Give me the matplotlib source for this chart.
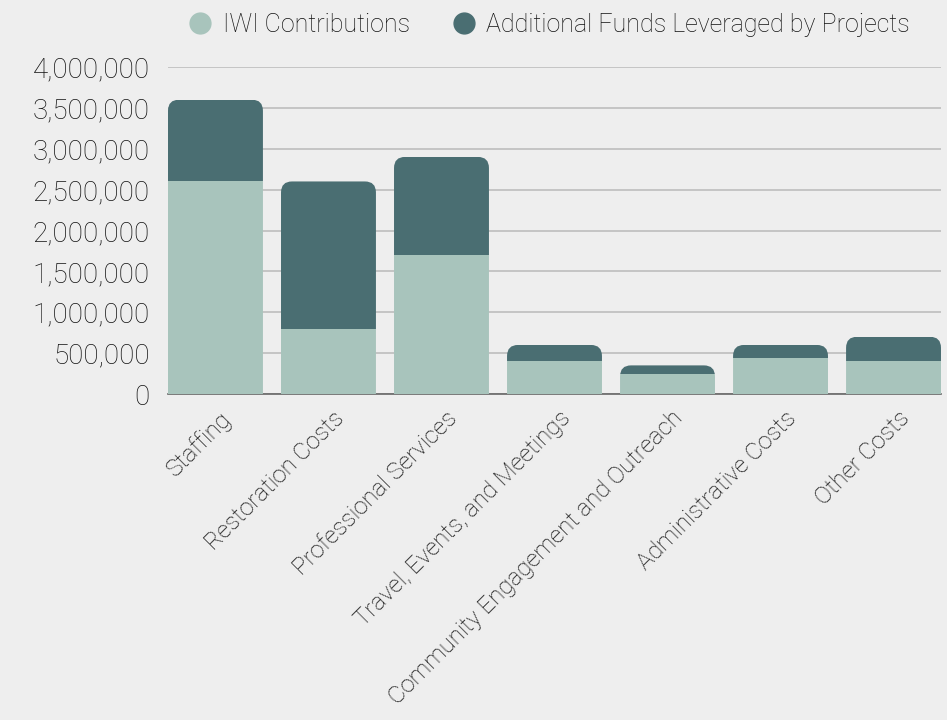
import numpy as np
import matplotlib.pyplot as plt
from matplotlib.patches import FancyBboxPatch
from matplotlib.lines import Line2D
from matplotlib.ticker import FuncFormatter
from matplotlib.transforms import ScaledTranslation

# -----------------------------
# Data
# -----------------------------
categories = ["Staffing", "Restoration Costs", "Professional Services",
              "Travel, Events, and Meetings", "Community Engagement and Outreach",
              "Administrative Costs", "Other Costs"]
iwi = [2600000, 800000, 1700000, 400000, 250000, 440000, 400000]
leveraged = [1000000, 1800000, 1200000, 200000, 100000, 160000, 300000]

light = "#a8c4bc"
dark = "#4a6e72"
bg = "#eeeeee"
txt = "#111111"

plt.rcParams['font.family'] = ['Roboto', 'DejaVu Sans']
plt.rcParams['font.weight'] = 'light'

W, H = 947, 720
fig = plt.figure(figsize=(W / 100, H / 100), dpi=100)
fig.patch.set_facecolor(bg)

left, right, bottom, top = 168, 941, 394, 67
ax = fig.add_axes([left / W, 1 - bottom / H, (right - left) / W, (bottom - top) / H])
ax.set_facecolor("none")

x = np.arange(len(categories))
width = 0.84
ax.set_xlim(-0.42, len(categories) - 1 + 0.42)
ax.set_ylim(0, 4000000)

b1 = ax.bar(x, iwi, width, color=light, zorder=3)
b2 = ax.bar(x, leveraged, width, bottom=iwi, color=dark, zorder=3)

# rounded top corners: clip each stack to a rounded box
px_x = (right - left) / (ax.get_xlim()[1] - ax.get_xlim()[0])
px_y = (bottom - top) / 4000000
radius_px = 11
rx = radius_px / px_x
aspect = (radius_px / px_y) / rx
for i, (a, b) in enumerate(zip(iwi, leveraged)):
    total = a + b
    clip = FancyBboxPatch((x[i] - width / 2, -500000), width, total + 500000,
                          boxstyle=f"round,pad=0,rounding_size={rx}",
                          mutation_aspect=aspect, transform=ax.transData,
                          facecolor="none", edgecolor="none")
    ax.add_patch(clip)
    b1[i].set_clip_path(clip)
    b2[i].set_clip_path(clip)

ax.yaxis.set_major_formatter(FuncFormatter(lambda v, p: f"{int(v):,}"))
ax.set_yticks(np.arange(0, 4000001, 500000))
ax.grid(axis="y", color="#bdbdbd", linewidth=1.2, zorder=0)
ax.tick_params(axis="y", length=0, labelsize=20, colors=txt, pad=13)
ax.tick_params(axis="x", length=0, labelsize=17.3, colors=txt, pad=4)
for s in ["top", "right", "left"]:
    ax.spines[s].set_visible(False)
ax.spines["bottom"].set_color("#666666")
ax.spines["bottom"].set_linewidth(1.2)

ax.set_xticks(x)
ax.set_xticklabels(categories, rotation=45, ha="right", rotation_mode="anchor")
shift = ScaledTranslation(4 / 100, -7 / 100, fig.dpi_scale_trans)
for lab in ax.get_xticklabels():
    lab.set_transform(lab.get_transform() + shift)

handles = [Line2D([], [], marker="o", linestyle="none", markersize=15,
                  markerfacecolor=light, markeredgecolor=light),
           Line2D([], [], marker="o", linestyle="none", markersize=15,
                  markerfacecolor=dark, markeredgecolor=dark)]
fig.legend(handles, ["IWI Contributions", "Additional Funds Leveraged by Projects"],
           loc="center", bbox_to_anchor=(549 / W, 1 - 25 / H), ncol=2,
           frameon=False, fontsize=18, handlelength=1.0, handletextpad=0.4,
           columnspacing=1.66, labelcolor=txt)

fig.savefig("out.png", dpi=100, facecolor=bg)
